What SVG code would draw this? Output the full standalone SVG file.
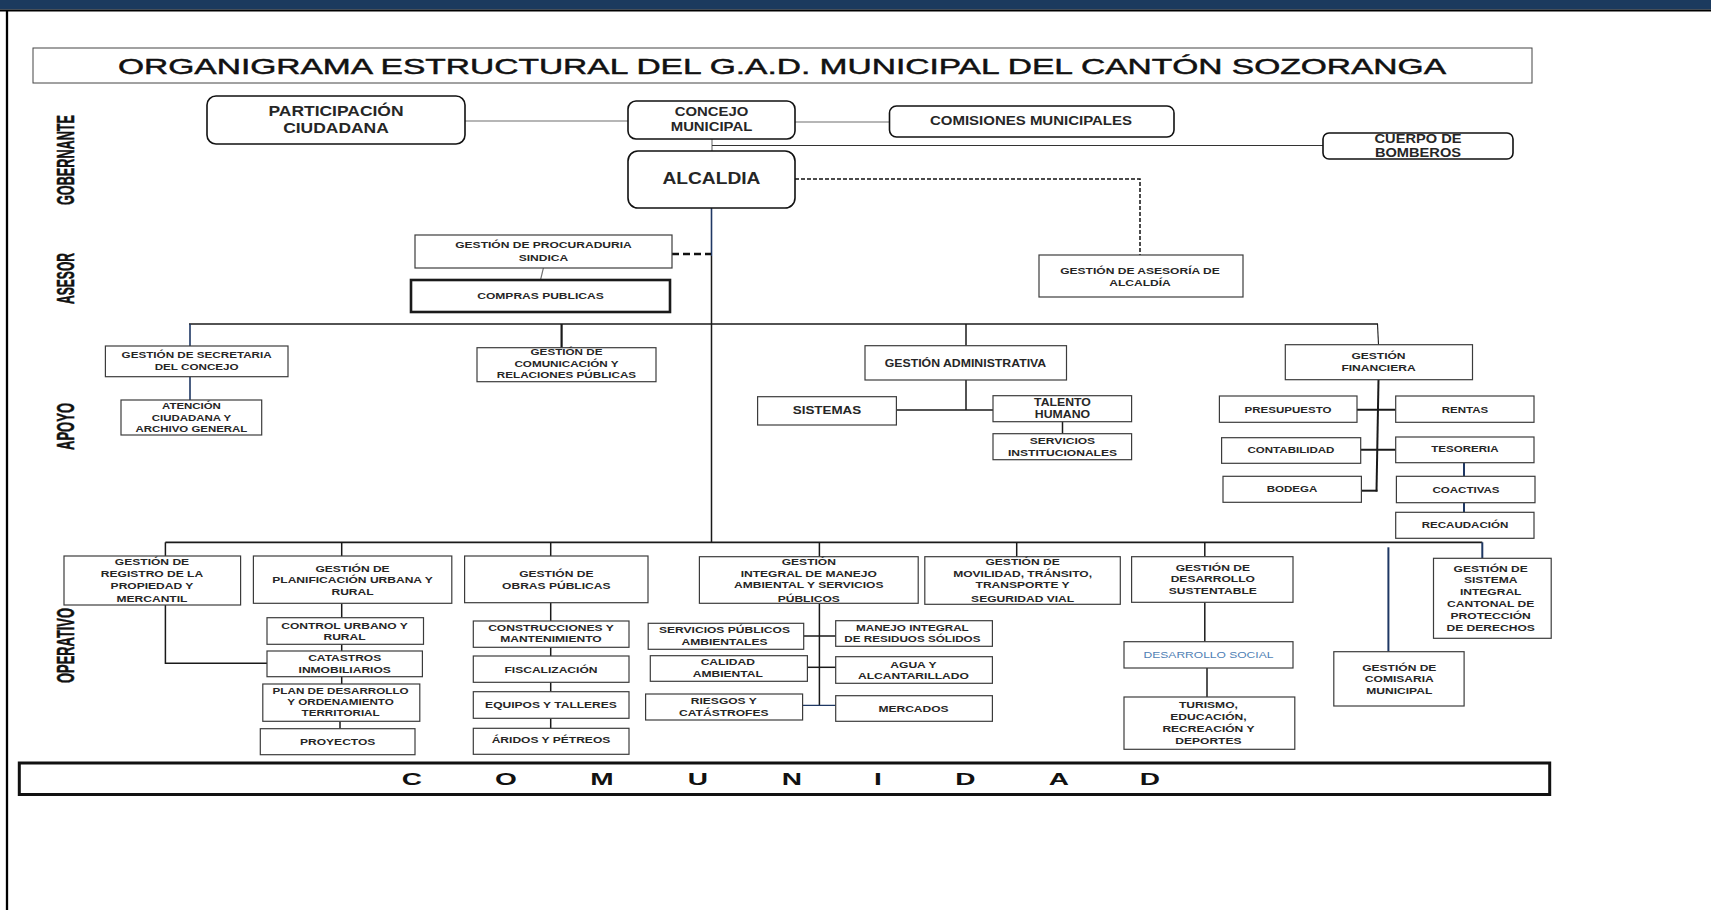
<svg xmlns="http://www.w3.org/2000/svg" width="1711" height="910" viewBox="0 0 1711 910">
<style>
.bx{fill:#fff;stroke:#3c3c3c;stroke-width:1.2}
.rb{fill:#fff;stroke:#111;stroke-width:1.6}
.tk{fill:#fff;stroke:#1a1a1a;stroke-width:2.6}
.n{font-family:"Liberation Sans",Arial,sans-serif;font-weight:bold;fill:#262626;text-anchor:middle;font-size:9.8px;transform-box:fill-box;transform-origin:center;transform:scaleX(1.23)}
.lv{font-family:"Liberation Sans",Arial,sans-serif;font-weight:bold;fill:#111;font-size:23px;text-anchor:middle;stroke:#111;stroke-width:0.5}
.c{font-family:"Liberation Sans",Arial,sans-serif;font-weight:bold;fill:#111;font-size:17px;text-anchor:middle;transform-box:fill-box;transform-origin:center;transform:scaleX(1.65)}
.ln{fill:none;stroke:#1a1a1a;stroke-width:1.5}
.lg{fill:none;stroke:#6e6e6e;stroke-width:1.1}
.nv{fill:none;stroke:#1f3864;stroke-width:1.6}
.ds{fill:none;stroke:#111;stroke-width:1.5;stroke-dasharray:4 2}
.dk{fill:none;stroke:#111;stroke-width:2.6;stroke-dasharray:7 4}
</style>
<rect width="1711" height="910" fill="#fff"/>
<g id="marco">
<rect x="0" y="0" width="1711" height="9.5" fill="#1b3a5e"/>
<line x1="0" y1="10.5" x2="1711" y2="10.5" stroke="#000" stroke-width="2"/>
<line x1="7" y1="10" x2="7" y2="910" stroke="#000" stroke-width="2.3"/>
</g>
<g id="titulo">
<rect x="33" y="48" width="1499" height="35" fill="#fff" stroke="#444" stroke-width="1"/>
<text x="118" y="73.5" font-family="'Liberation Sans',Arial,sans-serif" font-size="21.5" fill="#111" stroke="#111" stroke-width="0.45" textLength="1328" lengthAdjust="spacingAndGlyphs">ORGANIGRAMA ESTRUCTURAL DEL G.A.D. MUNICIPAL DEL CANTÓN SOZORANGA</text>
</g>
<g id="niveles">
<text class="lv" transform="translate(73.5,160) rotate(-90)" textLength="90" lengthAdjust="spacingAndGlyphs">GOBERNANTE</text>
<text class="lv" transform="translate(73.5,278.5) rotate(-90)" textLength="51" lengthAdjust="spacingAndGlyphs">ASESOR</text>
<text class="lv" transform="translate(73.5,426.5) rotate(-90)" textLength="47" lengthAdjust="spacingAndGlyphs">APOYO</text>
<text class="lv" transform="translate(73.5,645.5) rotate(-90)" textLength="75" lengthAdjust="spacingAndGlyphs">OPERATIVO</text>
</g>
<g id="conectores">
<line class="lg" x1="465" y1="121" x2="628" y2="121"/>
<line class="lg" x1="795" y1="122" x2="889.5" y2="122"/>
<line class="lg" x1="712" y1="139" x2="712" y2="151"/>
<line class="ln" x1="712" y1="145.5" x2="1323" y2="145.5" style="stroke-width:1.2;stroke:#333"/>
<path class="ds" d="M795 179 H1140 V255"/>
<line class="nv" x1="711.5" y1="208" x2="711.5" y2="256"/>
<line class="ln" x1="711.5" y1="256" x2="711.5" y2="542.3"/>
<line class="dk" x1="672" y1="254" x2="711" y2="254"/>
<line class="lg" x1="543.4" y1="268" x2="540.5" y2="280"/>
<line class="ln" x1="189" y1="324" x2="1378" y2="324"/>
<line class="nv" x1="190" y1="324" x2="190" y2="352"/>
<line class="nv" x1="190" y1="376.7" x2="190" y2="400"/>
<line class="ln" x1="561.6" y1="324" x2="561.6" y2="355" style="stroke-width:2.2"/>
<line class="ln" x1="966" y1="324" x2="966" y2="345.7"/>
<line class="ln" x1="966" y1="380" x2="966" y2="410"/>
<line class="ln" x1="896.4" y1="410" x2="993" y2="410"/>
<line class="ln" x1="1062.5" y1="421.7" x2="1062.5" y2="433.7"/>
<line class="ln" x1="1377.5" y1="324" x2="1378.5" y2="344.7" style="stroke-width:1.1"/>
<line class="ln" x1="1378.5" y1="379.7" x2="1376.5" y2="491.5" style="stroke-width:2"/>
<line class="ln" x1="1357" y1="409.7" x2="1395.7" y2="409.7" style="stroke-width:2"/>
<line class="ln" x1="1360.7" y1="449.7" x2="1395.7" y2="449.7" style="stroke-width:2"/>
<line class="ln" x1="1361.4" y1="490.7" x2="1377.5" y2="490.7" style="stroke-width:2"/>
<line class="nv" x1="1464" y1="462.7" x2="1464" y2="476.3" style="stroke-width:2"/>
<line class="nv" x1="1464" y1="502.7" x2="1464" y2="512.3" style="stroke-width:2"/>
<line class="ln" x1="165.4" y1="542.3" x2="1482.3" y2="542.3" style="stroke-width:1.8"/>
<line class="ln" x1="165.4" y1="542.3" x2="165.4" y2="556"/>
<line class="ln" x1="341.7" y1="542.3" x2="341.7" y2="556"/>
<line class="ln" x1="550.7" y1="542.3" x2="550.7" y2="556"/>
<line class="ln" x1="819.4" y1="542.3" x2="819.4" y2="556.7"/>
<line class="ln" x1="1016.7" y1="542.3" x2="1016.7" y2="556.7"/>
<line class="ln" x1="1204.8" y1="542.3" x2="1204.8" y2="556.7"/>
<line class="nv" x1="1482.3" y1="542.3" x2="1482.3" y2="558.3" style="stroke-width:2"/>
<line class="nv" x1="1388.4" y1="547.3" x2="1388.4" y2="651.7" style="stroke-width:2"/>
<path class="ln" d="M165.4 605 V663.3 H267"/>
<line class="ln" x1="341.7" y1="603.3" x2="341.7" y2="617.7"/>
<line class="ln" x1="341.7" y1="644.3" x2="341.7" y2="651"/>
<line class="ln" x1="341.7" y1="676.7" x2="341.7" y2="684"/>
<line class="ln" x1="340" y1="721.3" x2="340" y2="728.7"/>
<line class="ln" x1="550.7" y1="602.7" x2="550.7" y2="621"/>
<line class="ln" x1="550.7" y1="647.3" x2="550.7" y2="656"/>
<line class="ln" x1="550.7" y1="682.3" x2="550.7" y2="691.7"/>
<line class="ln" x1="550.7" y1="718.3" x2="550.7" y2="728.3"/>
<line class="ln" x1="819.4" y1="603.3" x2="819.4" y2="705.7"/>
<line class="ln" x1="803.7" y1="636" x2="835.7" y2="636"/>
<line class="ln" x1="807.4" y1="667.3" x2="835.7" y2="667.3"/>
<line class="nv" x1="802.6" y1="705.3" x2="835.7" y2="705.3" style="stroke-width:1.2"/>
<line class="ln" x1="1204.8" y1="602.3" x2="1204.8" y2="641.7"/>
<line class="ln" x1="1207" y1="668" x2="1207" y2="697"/>
</g>
<g id="participacion-ciudadana"><rect class="rb" x="207" y="96" width="258" height="48" rx="9"/><text class="n" style="font-size:14.2px"><tspan x="336" y="116">PARTICIPACIÓN</tspan><tspan x="336" y="133">CIUDADANA</tspan></text></g>
<g id="concejo-municipal"><rect class="rb" x="628" y="101" width="167" height="38" rx="8"/><text class="n" style="font-size:12.1px"><tspan x="711.5" y="116">CONCEJO</tspan><tspan x="711.5" y="131">MUNICIPAL</tspan></text></g>
<g id="comisiones-municipales"><rect class="rb" x="889.5" y="106" width="284.5" height="31" rx="7"/><text class="n" style="font-size:12.2px"><tspan x="1031" y="125.5">COMISIONES MUNICIPALES</tspan></text></g>
<g id="cuerpo-de-bomberos"><rect class="rb" x="1323" y="133" width="190" height="26" rx="6"/><text class="n" style="font-size:11.9px"><tspan x="1418" y="142.7">CUERPO DE</tspan><tspan x="1418" y="157.3">BOMBEROS</tspan></text></g>
<g id="alcaldia"><rect class="rb" x="628" y="151" width="167" height="57" rx="10"/><text class="n" style="font-size:15.6px"><tspan x="711.5" y="184.5">ALCALDIA</tspan></text></g>
<g id="procuraduria-sindica"><rect class="bx" x="415" y="235" width="257" height="33"/><text class="n"><tspan x="543.5" y="248.5">GESTIÓN  DE  PROCURADURIA</tspan><tspan x="543.5" y="261">SINDICA</tspan></text></g>
<g id="compras-publicas"><rect class="tk" x="411" y="280" width="259" height="32"/><text class="n"><tspan x="540.5" y="299.5">COMPRAS PUBLICAS</tspan></text></g>
<g id="asesoria-alcaldia"><rect class="bx" x="1039" y="255" width="204" height="42"/><text class="n"><tspan x="1140" y="274">GESTIÓN  DE ASESORÍA  DE</tspan><tspan x="1140" y="286">ALCALDÍA</tspan></text></g>
<g id="secretaria-concejo"><rect class="bx" x="105.4" y="346" width="182.6" height="30.7"/><text class="n" style="font-size:9.5px"><tspan x="196.7" y="358.5">GESTIÓN  DE SECRETARIA</tspan><tspan x="196.7" y="370.3">DEL CONCEJO</tspan></text></g>
<g id="atencion-ciudadana"><rect class="bx" x="121" y="400" width="140.7" height="35"/><text class="n" style="font-size:9.3px"><tspan x="191.5" y="409.5">ATENCIÓN</tspan><tspan x="191.5" y="421">CIUDADANA Y</tspan><tspan x="191.5" y="432.3">ARCHIVO GENERAL</tspan></text></g>
<g id="comunicacion"><rect class="bx" x="477" y="347.7" width="179" height="34"/><text class="n" style="font-size:9.5px"><tspan x="566.5" y="355.5">GESTIÓN DE</tspan><tspan x="566.5" y="367">COMUNICACIÓN Y</tspan><tspan x="566.5" y="378.3">RELACIONES PÚBLICAS</tspan></text></g>
<g id="gestion-administrativa"><rect class="bx" x="865" y="345.7" width="201.5" height="34.3"/><text class="n" style="font-size:10px"><tspan x="965.5" y="367">GESTIÓN  ADMINISTRATIVA</tspan></text></g>
<g id="sistemas"><rect class="bx" x="757.6" y="396.7" width="138.8" height="28.3"/><text class="n" style="font-size:10.9px"><tspan x="827" y="414.3">SISTEMAS</tspan></text></g>
<g id="talento-humano"><rect class="bx" x="993" y="395.7" width="138.6" height="26"/><text class="n" style="font-size:10px"><tspan x="1062.5" y="406.3">TALENTO</tspan><tspan x="1062.5" y="418">HUMANO</tspan></text></g>
<g id="servicios-institucionales"><rect class="bx" x="993" y="433.7" width="138.6" height="26"/><text class="n"><tspan x="1062.5" y="444.3">SERVICIOS</tspan><tspan x="1062.5" y="456">INSTITUCIONALES</tspan></text></g>
<g id="gestion-financiera"><rect class="bx" x="1285.3" y="344.7" width="187.2" height="35"/><text class="n"><tspan x="1378.5" y="359.3">GESTIÓN</tspan><tspan x="1378.5" y="371">FINANCIERA</tspan></text></g>
<g id="presupuesto"><rect class="bx" x="1219.4" y="396" width="137.6" height="26.3"/><text class="n" style="font-size:9.4px"><tspan x="1288" y="412.7">PRESUPUESTO</tspan></text></g>
<g id="rentas"><rect class="bx" x="1395.7" y="396" width="138.3" height="26.3"/><text class="n" style="font-size:9.4px"><tspan x="1465" y="412.7">RENTAS</tspan></text></g>
<g id="contabilidad"><rect class="bx" x="1221.6" y="437.7" width="139.1" height="25.6"/><text class="n" style="font-size:9.4px"><tspan x="1291" y="453.3">CONTABILIDAD</tspan></text></g>
<g id="tesoreria"><rect class="bx" x="1395.7" y="437" width="138.3" height="25.7"/><text class="n" style="font-size:9.4px"><tspan x="1465" y="452.3">TESORERIA</tspan></text></g>
<g id="bodega"><rect class="bx" x="1223" y="476.3" width="138.4" height="26"/><text class="n" style="font-size:9.4px"><tspan x="1292" y="492">BODEGA</tspan></text></g>
<g id="coactivas"><rect class="bx" x="1396.4" y="476.3" width="138.6" height="26.4"/><text class="n" style="font-size:9.4px"><tspan x="1466" y="492.7">COACTIVAS</tspan></text></g>
<g id="recaudacion"><rect class="bx" x="1395.7" y="512.3" width="138.3" height="26"/><text class="n" style="font-size:9.4px"><tspan x="1465" y="528.3">RECAUDACIÓN</tspan></text></g>
<g id="registro-propiedad"><rect class="bx" x="64" y="556" width="176.6" height="49"/><text class="n"><tspan x="152" y="565">GESTIÓN  DE</tspan><tspan x="152" y="576.7">REGISTRO  DE LA</tspan><tspan x="152" y="589">PROPIEDAD  Y</tspan><tspan x="152" y="601.7">MERCANTIL</tspan></text></g>
<g id="planificacion-urbana"><rect class="bx" x="253.4" y="556" width="198.4" height="47.3"/><text class="n"><tspan x="352.6" y="571.7">GESTIÓN  DE</tspan><tspan x="352.6" y="583.3">PLANIFICACIÓN URBANA Y</tspan><tspan x="352.6" y="595.3">RURAL</tspan></text></g>
<g id="control-urbano"><rect class="bx" x="267" y="617.7" width="156.5" height="26.6"/><text class="n"><tspan x="344.6" y="629">CONTROL URBANO Y</tspan><tspan x="344.6" y="640.3">RURAL</tspan></text></g>
<g id="catastros"><rect class="bx" x="267" y="651" width="155.4" height="25.7"/><text class="n"><tspan x="344.7" y="661">CATASTROS</tspan><tspan x="344.7" y="673">INMOBILIARIOS</tspan></text></g>
<g id="plan-desarrollo"><rect class="bx" x="262.8" y="684" width="157" height="37.3"/><text class="n" style="font-size:9.5px"><tspan x="340.6" y="694.3">PLAN DE DESARROLLO</tspan><tspan x="340.6" y="705.3">Y ORDENAMIENTO</tspan><tspan x="340.6" y="716.3">TERRITORIAL</tspan></text></g>
<g id="proyectos"><rect class="bx" x="260.3" y="728.7" width="154.7" height="26"/><text class="n"><tspan x="337.7" y="745">PROYECTOS</tspan></text></g>
<g id="obras-publicas"><rect class="bx" x="464.6" y="556" width="183.4" height="46.7"/><text class="n"><tspan x="556.3" y="577.3">GESTIÓN  DE</tspan><tspan x="556.3" y="588.7">OBRAS PÚBLICAS</tspan></text></g>
<g id="construcciones"><rect class="bx" x="473.3" y="621" width="155.7" height="26.3"/><text class="n"><tspan x="551" y="631.5">CONSTRUCCIONES  Y</tspan><tspan x="551" y="642.5">MANTENIMIENTO</tspan></text></g>
<g id="fiscalizacion"><rect class="bx" x="473.3" y="656" width="155.7" height="26.3"/><text class="n"><tspan x="551" y="672.7">FISCALIZACIÓN</tspan></text></g>
<g id="equipos-talleres"><rect class="bx" x="473.3" y="691.7" width="155.7" height="26.6"/><text class="n"><tspan x="551" y="708.3">EQUIPOS Y TALLERES</tspan></text></g>
<g id="aridos-petreos"><rect class="bx" x="473.3" y="728.3" width="155.7" height="26"/><text class="n"><tspan x="551" y="743.5">ÁRIDOS Y PÉTREOS</tspan></text></g>
<g id="manejo-ambiental"><rect class="bx" x="699.4" y="556.7" width="218.8" height="46.6"/><text class="n"><tspan x="808.8" y="565">GESTIÓN</tspan><tspan x="808.8" y="576.7">INTEGRAL  DE MANEJO</tspan><tspan x="808.8" y="588.3">AMBIENTAL  Y SERVICIOS</tspan><tspan x="808.8" y="601.7">PÚBLICOS</tspan></text></g>
<g id="servicios-publicos"><rect class="bx" x="648.2" y="623.3" width="155.5" height="26"/><text class="n"><tspan x="724.5" y="633.3">SERVICIOS  PÚBLICOS</tspan><tspan x="724.5" y="645">AMBIENTALES</tspan></text></g>
<g id="residuos-solidos"><rect class="bx" x="835.7" y="620.7" width="156.7" height="25.6"/><text class="n" style="font-size:9.5px"><tspan x="912.4" y="631">MANEJO INTEGRAL</tspan><tspan x="912.4" y="642.3">DE RESIDUOS SÓLIDOS</tspan></text></g>
<g id="calidad-ambiental"><rect class="bx" x="650.3" y="655.7" width="157.1" height="25.6"/><text class="n"><tspan x="727.8" y="665.3">CALIDAD</tspan><tspan x="727.8" y="676.7">AMBIENTAL</tspan></text></g>
<g id="agua-alcantarillado"><rect class="bx" x="835.7" y="656.7" width="156.7" height="26.6"/><text class="n"><tspan x="913.5" y="667.7">AGUA Y</tspan><tspan x="913.5" y="679.3">ALCANTARILLADO</tspan></text></g>
<g id="riesgos"><rect class="bx" x="645.6" y="694" width="157" height="26"/><text class="n"><tspan x="723.8" y="704">RIESGOS  Y</tspan><tspan x="723.8" y="715.7">CATÁSTROFES</tspan></text></g>
<g id="mercados"><rect class="bx" x="835.7" y="695.7" width="156.7" height="25.6"/><text class="n"><tspan x="913.5" y="712.3">MERCADOS</tspan></text></g>
<g id="movilidad"><rect class="bx" x="924.8" y="556.7" width="195.5" height="47.6"/><text class="n"><tspan x="1022.6" y="565">GESTIÓN  DE</tspan><tspan x="1022.6" y="576.7">MOVILIDAD,  TRÁNSITO,</tspan><tspan x="1022.6" y="588.3">TRANSPORTE  Y</tspan><tspan x="1022.6" y="601.7">SEGURIDAD  VIAL</tspan></text></g>
<g id="desarrollo-sustentable"><rect class="bx" x="1131.6" y="556.7" width="161.4" height="45.6"/><text class="n"><tspan x="1212.8" y="570.7">GESTIÓN  DE</tspan><tspan x="1212.8" y="582.3">DESARROLLO</tspan><tspan x="1212.8" y="594">SUSTENTABLE</tspan></text></g>
<g id="desarrollo-social"><rect class="bx" x="1124" y="641.7" width="169" height="26.3"/><text class="n" style="font-weight:normal;fill:#4f7fb5"><tspan x="1208.5" y="658">DESARROLLO  SOCIAL</tspan></text></g>
<g id="turismo"><rect class="bx" x="1124" y="697" width="170.8" height="52.3"/><text class="n"><tspan x="1208.5" y="708.3">TURISMO,</tspan><tspan x="1208.5" y="720">EDUCACIÓN,</tspan><tspan x="1208.5" y="731.7">RECREACIÓN  Y</tspan><tspan x="1208.5" y="744.3">DEPORTES</tspan></text></g>
<g id="comisaria-municipal"><rect class="bx" x="1333.8" y="651.7" width="130.3" height="54.3"/><text class="n"><tspan x="1399.3" y="670.7">GESTIÓN  DE</tspan><tspan x="1399.3" y="682.3">COMISARIA</tspan><tspan x="1399.3" y="694">MUNICIPAL</tspan></text></g>
<g id="proteccion-derechos"><rect class="bx" x="1433.5" y="558.3" width="117.7" height="80"/><text class="n"><tspan x="1490.7" y="571.7">GESTIÓN  DE</tspan><tspan x="1490.7" y="583.3">SISTEMA</tspan><tspan x="1490.7" y="595">INTEGRAL</tspan><tspan x="1490.7" y="607.3">CANTONAL DE</tspan><tspan x="1490.7" y="619.3">PROTECCIÓN</tspan><tspan x="1490.7" y="631">DE DERECHOS</tspan></text></g>
<g id="comunidad">
<rect x="19.3" y="763" width="1530.4" height="31.5" fill="#fff" stroke="#111" stroke-width="3"/>
<text class="c" x="412" y="785">C</text>
<text class="c" x="506" y="785">O</text>
<text class="c" x="602" y="785">M</text>
<text class="c" x="698" y="785">U</text>
<text class="c" x="792" y="785">N</text>
<text class="c" x="878" y="785">I</text>
<text class="c" x="965.5" y="785">D</text>
<text class="c" x="1059" y="785">A</text>
<text class="c" x="1150" y="785">D</text>
</g>
</svg>
